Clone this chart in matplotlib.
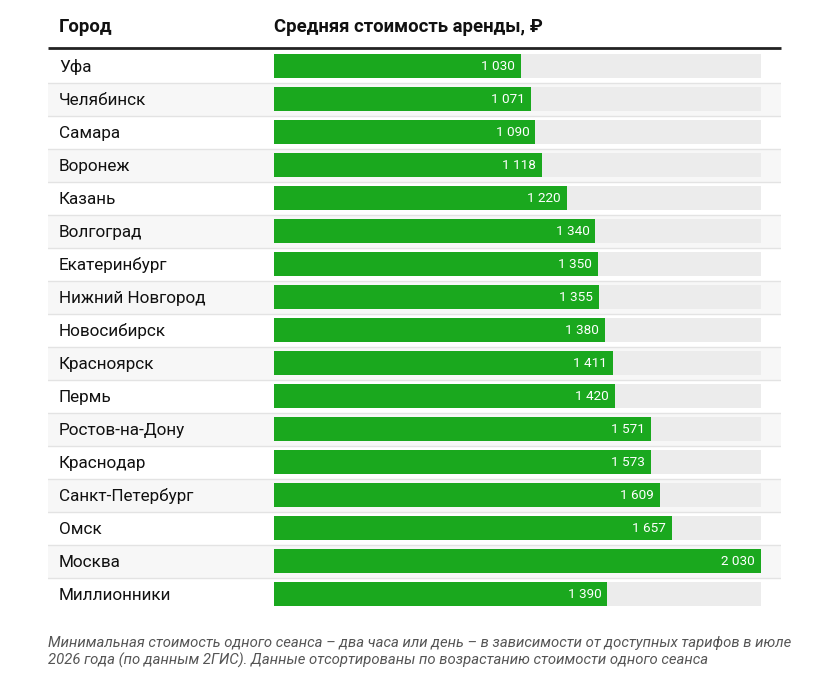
import matplotlib.pyplot as plt
from matplotlib.patches import Rectangle

cities = ['Уфа', 'Челябинск', 'Самара', 'Воронеж', 'Казань', 'Волгоград',
          'Екатеринбург', 'Нижний Новгород', 'Новосибирск', 'Красноярск',
          'Пермь', 'Ростов-на-Дону', 'Краснодар', 'Санкт-Петербург', 'Омск',
          'Москва', 'Миллионники']
prices = [1030, 1071, 1090, 1118, 1220, 1340, 1350, 1355, 1380, 1411,
          1420, 1571, 1573, 1609, 1657, 2030, 1390]

col_city = 'Город'
col_value = 'Средняя стоимость аренды, ₽'
note = ('Минимальная стоимость одного сеанса – два часа или день – в зависимости от доступных тарифов в июле\n'
        '2026 года (по данным 2ГИС). Данные отсортированы по возрастанию стоимости одного сеанса')


def fmt(v):
    return f'{v:,}'.replace(',', ' ')


def main():
    plt.rcParams['font.family'] = ['Roboto', 'DejaVu Sans']
    W, H = 817, 674
    fig = plt.figure(figsize=(W / 100, H / 100), dpi=100)

    # table area in pixels
    left_px, right_px = 48, 781
    bar0_px, barmax_px = 274, 761
    top_px, row_h = 49.5, 33
    n = len(cities)
    vmax = max(prices)
    scale = (barmax_px - bar0_px) / vmax  # px per unit

    ax = fig.add_axes([left_px / W, 1 - (top_px + n * row_h) / H,
                       (right_px - left_px) / W, n * row_h / H])
    x_lo = -(bar0_px - left_px) / scale
    x_hi = vmax + (right_px - barmax_px) / scale
    ax.set_xlim(x_lo, x_hi)
    ax.set_ylim(n - 0.5, -0.5)
    ax.axis('off')

    for i, (c, v) in enumerate(zip(cities, prices)):
        if i % 2 == 1:
            ax.add_patch(Rectangle((x_lo, i - 0.5), x_hi - x_lo, 1,
                                   color='#f7f7f7', lw=0, zorder=0))
        if i > 0:
            ax.plot([x_lo, x_hi], [i - 0.5, i - 0.5], color='#e3e3e3', lw=1, zorder=1)
        ax.barh(i, vmax, height=0.73, color='#ececec', zorder=2)
        ax.barh(i, v, height=0.73, color='#1aa81e', zorder=3)
        ax.text(v - 6 / scale, i + 0.02, fmt(v), ha='right', va='center',
                color='white', fontsize=9.7, zorder=4)
        ax.text(x_lo + 11 / scale, i + 0.04, c, ha='left', va='center',
                color='#111111', fontsize=12.3)

    ax.plot([x_lo, x_hi], [-0.5 - 2 / row_h] * 2, color='#222222', lw=2,
            clip_on=False, solid_capstyle='butt')
    hy = -0.5 - (top_px - 27.5) / row_h
    ax.text(x_lo + 11 / scale, hy, col_city, ha='left', va='center',
            fontsize=13.3, fontweight='bold', color='#111111', clip_on=False)
    ax.text(0, hy, col_value, ha='left', va='center',
            fontsize=13.3, fontweight='bold', color='#111111', clip_on=False)

    fig.text(left_px / W, 1 - 636 / H, note, ha='left', va='top',
             fontsize=10.7, style='italic', color='#555555', linespacing=1.25)

    fig.savefig('out.png', dpi=100)


if __name__ == '__main__':
    main()
